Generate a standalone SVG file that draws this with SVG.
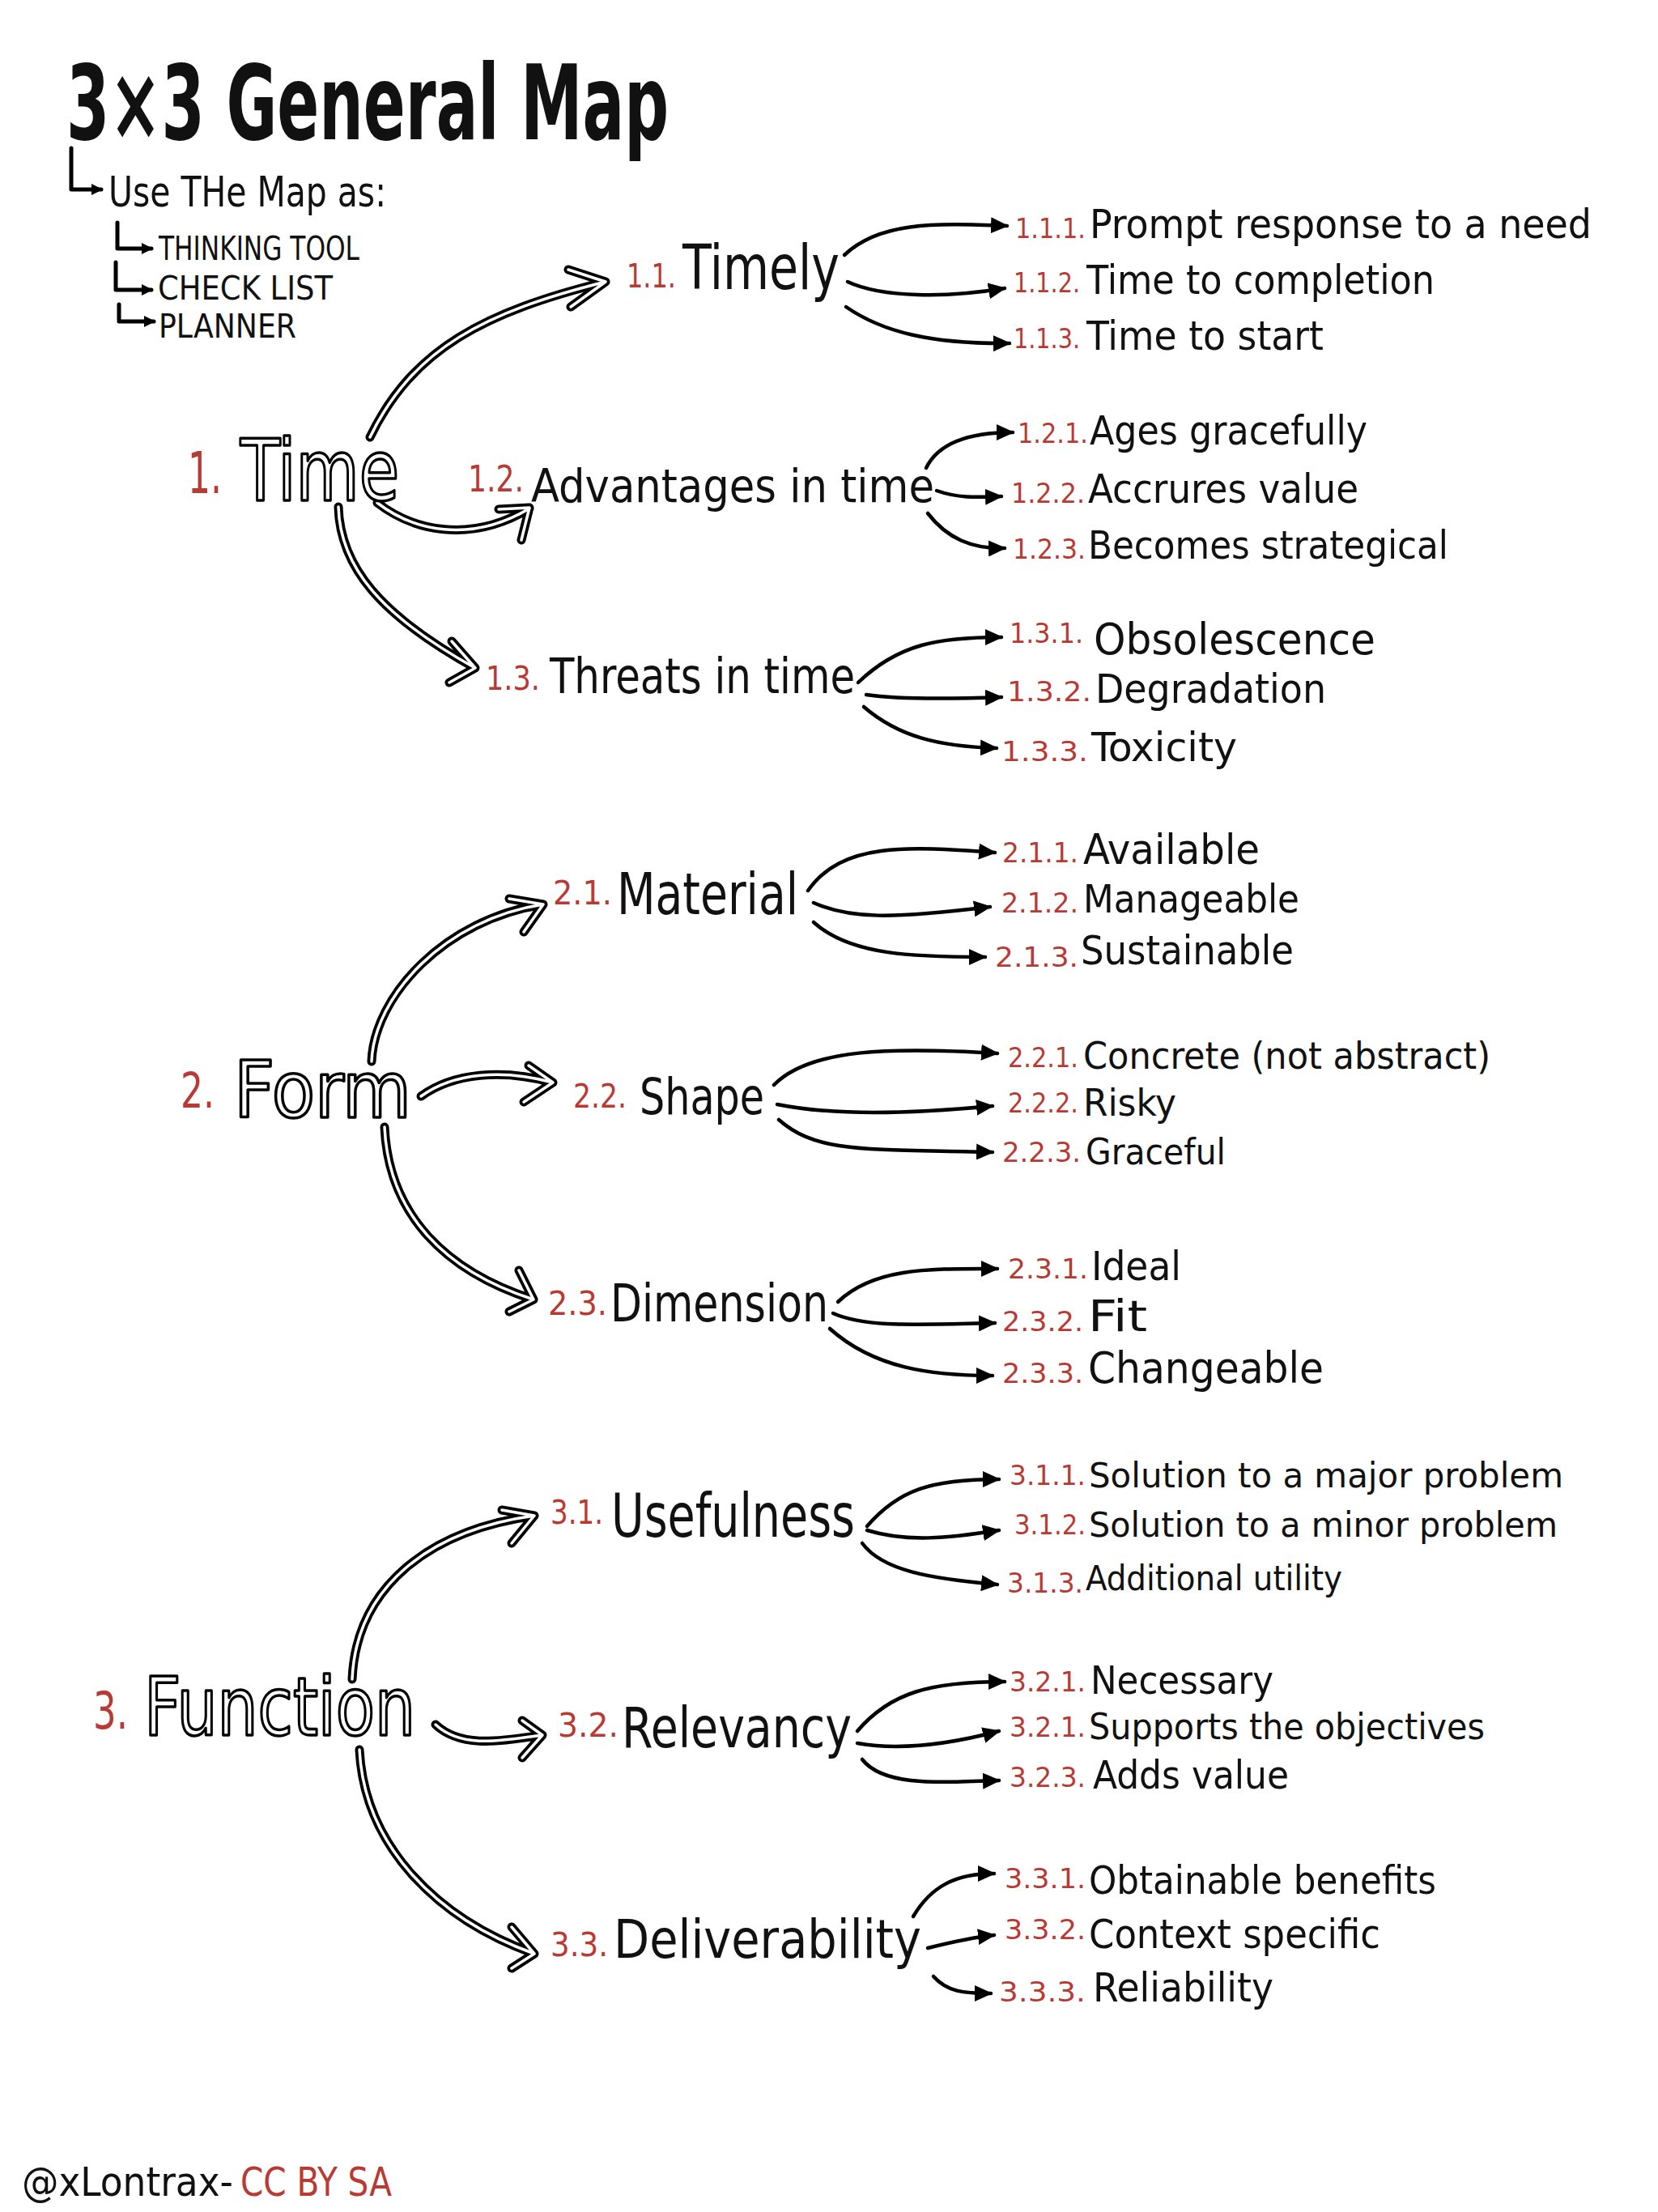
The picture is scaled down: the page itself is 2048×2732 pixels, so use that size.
<svg xmlns="http://www.w3.org/2000/svg" xmlns:xlink="http://www.w3.org/1999/xlink" width="2048" height="2732" viewBox="0 0 2048 2732">
<style>
text{font-family:"DejaVu Sans Condensed","Liberation Sans Narrow","Liberation Sans",sans-serif;fill:#111}
.num{fill:#b83a35}
.outl{fill:#fff;stroke:#000;stroke-width:3.5;stroke-linejoin:round}
.bold{font-weight:bold}
.n3{font-size:34px}
.n2{font-size:40px}
.c3{fill:none;stroke:#000;stroke-width:4.5;stroke-linecap:round;marker-end:url(#ah)}
.mo{fill:none;stroke:#000;stroke-width:11;stroke-linecap:round;stroke-linejoin:round}
.mi{fill:none;stroke:#fff;stroke-width:3.5;stroke-linecap:round;stroke-linejoin:round}
.lm{fill:none;stroke:#000;stroke-width:5;stroke-linecap:round;stroke-linejoin:round;marker-end:url(#sh)}
</style>
<defs>
<marker id="ah" markerUnits="userSpaceOnUse" markerWidth="22" markerHeight="20" refX="20" refY="10" orient="auto">
<path d="M0,0 L22,10 L0,20 Z" fill="#000"/>
</marker>
<marker id="sh" markerUnits="userSpaceOnUse" markerWidth="14" markerHeight="14" refX="12" refY="7" orient="auto">
<path d="M0,0 L14,7 L0,14 Z" fill="#000"/>
</marker>
<path id="m11" d="M457,540 C510,430 600,385 748,348 M702,333 L748,348 L705,379"/>
<path id="m12" d="M466,621 C510,655 580,672 654,628 M616,629 L654,627 L644,667"/>
<path id="m13" d="M418,626 C420,700 470,760 587,825 M558,792 L587,825 L555,843"/>
<path id="m21" d="M459,1311 C462,1230 550,1135 671,1117 M629,1110 L671,1117 L647,1151"/>
<path id="m22" d="M520,1354 C560,1325 620,1320 683,1337 M653,1316 L683,1337 L647,1361"/>
<path id="m23" d="M475,1392 C480,1500 550,1570 659,1605 M641,1569 L659,1605 L629,1620"/>
<path id="m31" d="M435,2074 C440,1960 530,1890 660,1872 M620,1865 L660,1872 L632,1906"/>
<path id="m32" d="M538,2130 C570,2160 620,2150 670,2143 M645,2125 L670,2143 L645,2171"/>
<path id="m33" d="M444,2161 C450,2280 540,2370 660,2413 M632,2380 L660,2413 L632,2431"/>
</defs>
<rect width="2048" height="2732" fill="#fff"/>

<g id="title">
<text x="82" y="172" font-size="128" class="bold" textLength="744" lengthAdjust="spacingAndGlyphs">3×3 General Map</text>
</g>

<g id="usage">
<path class="lm" d="M88,183 L88,234 L125,234"/>
<text x="134" y="255" font-size="52" textLength="343" lengthAdjust="spacingAndGlyphs">Use THe Map as:</text>
<path class="lm" d="M145,275 L145,307 L187,307"/>
<text x="196" y="321" font-size="40" textLength="248" lengthAdjust="spacingAndGlyphs">THINKING TOOL</text>
<path class="lm" d="M143,324 L143,358 L187,358"/>
<text x="195" y="370" font-size="40" textLength="216" lengthAdjust="spacingAndGlyphs">CHECK LIST</text>
<path class="lm" d="M147,376 L147,397 L190,397"/>
<text x="196" y="417" font-size="40" textLength="170" lengthAdjust="spacingAndGlyphs">PLANNER</text>
</g>

<g id="connectors">
<g id="main-connectors">
<use xlink:href="#m11" class="mo"/><use xlink:href="#m11" class="mi"/>
<use xlink:href="#m12" class="mo"/><use xlink:href="#m12" class="mi"/>
<use xlink:href="#m13" class="mo"/><use xlink:href="#m13" class="mi"/>
<use xlink:href="#m21" class="mo"/><use xlink:href="#m21" class="mi"/>
<use xlink:href="#m22" class="mo"/><use xlink:href="#m22" class="mi"/>
<use xlink:href="#m23" class="mo"/><use xlink:href="#m23" class="mi"/>
<use xlink:href="#m31" class="mo"/><use xlink:href="#m31" class="mi"/>
<use xlink:href="#m32" class="mo"/><use xlink:href="#m32" class="mi"/>
<use xlink:href="#m33" class="mo"/><use xlink:href="#m33" class="mi"/>
</g>
<g id="leaf-connectors">
<path class="c3" d="M1043,315 C1085,275 1150,275 1244,279"/>
<path class="c3" d="M1047,348 C1090,368 1170,368 1241,356"/>
<path class="c3" d="M1045,379 C1090,410 1150,425 1247,424"/>
<path class="c3" d="M1144,578 C1160,545 1200,534 1251,534"/>
<path class="c3" d="M1157,606 C1185,616 1210,614 1237,613"/>
<path class="c3" d="M1146,634 C1170,665 1200,678 1241,677"/>
<path class="c3" d="M1060,843 C1110,795 1160,787 1237,787"/>
<path class="c3" d="M1070,858 C1110,864 1180,863 1237,861"/>
<path class="c3" d="M1067,873 C1110,910 1160,922 1231,924"/>
<path class="c3" d="M998,1100 C1040,1040 1120,1045 1229,1053"/>
<path class="c3" d="M1005,1115 C1050,1135 1100,1135 1223,1120"/>
<path class="c3" d="M1005,1139 C1050,1180 1130,1182 1217,1182"/>
<path class="c3" d="M956,1340 C1000,1295 1100,1293 1232,1301"/>
<path class="c3" d="M960,1364 C1030,1378 1120,1376 1226,1366"/>
<path class="c3" d="M962,1383 C1010,1425 1070,1419 1226,1423"/>
<path class="c3" d="M1035,1608 C1080,1565 1150,1567 1232,1567"/>
<path class="c3" d="M1029,1622 C1070,1640 1130,1636 1229,1634"/>
<path class="c3" d="M1025,1641 C1080,1690 1150,1699 1226,1699"/>
<path class="c3" d="M1071,1885 C1110,1840 1150,1827 1234,1827"/>
<path class="c3" d="M1071,1890 C1120,1905 1170,1900 1234,1890"/>
<path class="c3" d="M1065,1906 C1090,1940 1150,1950 1232,1957"/>
<path class="c3" d="M1059,2138 C1100,2090 1150,2077 1241,2077"/>
<path class="c3" d="M1059,2153 C1110,2162 1170,2155 1234,2138"/>
<path class="c3" d="M1065,2173 C1090,2205 1150,2202 1234,2199"/>
<path class="c3" d="M1128,2367 C1150,2330 1180,2314 1228,2314"/>
<path class="c3" d="M1146,2406 C1170,2400 1200,2393 1228,2390"/>
<path class="c3" d="M1153,2441 C1170,2460 1190,2462 1224,2462"/>
</g>
</g>

<g id="n1">
<text x="232" y="609" font-size="72" class="num" textLength="42" lengthAdjust="spacingAndGlyphs">1.</text>
<text x="297" y="618" font-size="106" class="outl" textLength="196" lengthAdjust="spacingAndGlyphs">Time</text>
</g>
<g id="n2">
<text x="223" y="1368" font-size="60" class="num" textLength="42" lengthAdjust="spacingAndGlyphs">2.</text>
<text x="289" y="1380" font-size="96" class="outl" textLength="219" lengthAdjust="spacingAndGlyphs">Form</text>
</g>
<g id="n3">
<text x="115" y="2135" font-size="64" class="num" textLength="43" lengthAdjust="spacingAndGlyphs">3.</text>
<text x="178" y="2143" font-size="100" class="outl" textLength="335" lengthAdjust="spacingAndGlyphs">Function</text>
</g>

<g id="n1-1"><text x="774" y="355" class="num n2" textLength="61" lengthAdjust="spacingAndGlyphs">1.1.</text><text x="843" y="357" font-size="76" textLength="194" lengthAdjust="spacingAndGlyphs">Timely</text></g>
<g id="n1-2"><text x="578" y="607" class="num" font-size="44" textLength="69" lengthAdjust="spacingAndGlyphs">1.2.</text><text x="656" y="620" font-size="57" textLength="498" lengthAdjust="spacingAndGlyphs">Advantages in time</text></g>
<g id="n1-3"><text x="600" y="852" class="num n2" textLength="67" lengthAdjust="spacingAndGlyphs">1.3.</text><text x="679" y="856" font-size="60" textLength="377" lengthAdjust="spacingAndGlyphs">Threats in time</text></g>
<g id="n2-1"><text x="683" y="1117" class="num n2" textLength="73" lengthAdjust="spacingAndGlyphs">2.1.</text><text x="762" y="1129" font-size="72" textLength="224" lengthAdjust="spacingAndGlyphs">Material</text></g>
<g id="n2-2"><text x="708" y="1368" class="num n2" textLength="66" lengthAdjust="spacingAndGlyphs">2.2.</text><text x="790" y="1376" font-size="62" textLength="154" lengthAdjust="spacingAndGlyphs">Shape</text></g>
<g id="n2-3"><text x="677" y="1624" class="num n2" textLength="73" lengthAdjust="spacingAndGlyphs">2.3.</text><text x="754" y="1632" font-size="64" textLength="269" lengthAdjust="spacingAndGlyphs">Dimension</text></g>
<g id="n3-1"><text x="680" y="1882" class="num n2" textLength="65" lengthAdjust="spacingAndGlyphs">3.1.</text><text x="755" y="1898" font-size="74" textLength="301" lengthAdjust="spacingAndGlyphs">Usefulness</text></g>
<g id="n3-2"><text x="689" y="2145" class="num n2" textLength="75" lengthAdjust="spacingAndGlyphs">3.2.</text><text x="768" y="2158" font-size="70" textLength="284" lengthAdjust="spacingAndGlyphs">Relevancy</text></g>
<g id="n3-3"><text x="680" y="2416" class="num n2" textLength="71" lengthAdjust="spacingAndGlyphs">3.3.</text><text x="758" y="2418" font-size="66" textLength="380" lengthAdjust="spacingAndGlyphs">Deliverability</text></g>

<g id="n1-1-1"><text x="1254" y="294" class="num n3" textLength="87" lengthAdjust="spacingAndGlyphs">1.1.1.</text><text x="1346" y="294" font-size="50" textLength="620" lengthAdjust="spacingAndGlyphs">Prompt response to a need</text></g>
<g id="n1-1-2"><text x="1252" y="361" class="num n3" textLength="82" lengthAdjust="spacingAndGlyphs">1.1.2.</text><text x="1342" y="363" font-size="49" textLength="430" lengthAdjust="spacingAndGlyphs">Time to completion</text></g>
<g id="n1-1-3"><text x="1252" y="430" class="num n3" textLength="82" lengthAdjust="spacingAndGlyphs">1.1.3.</text><text x="1342" y="432" font-size="50" textLength="293" lengthAdjust="spacingAndGlyphs">Time to start</text></g>
<g id="n1-2-1"><text x="1257" y="547" class="num n3" textLength="87" lengthAdjust="spacingAndGlyphs">1.2.1.</text><text x="1346" y="549" font-size="49" textLength="343" lengthAdjust="spacingAndGlyphs">Ages gracefully</text></g>
<g id="n1-2-2"><text x="1249" y="621" class="num n3" textLength="91" lengthAdjust="spacingAndGlyphs">1.2.2.</text><text x="1344" y="621" font-size="49" textLength="334" lengthAdjust="spacingAndGlyphs">Accrures value</text></g>
<g id="n1-2-3"><text x="1251" y="690" class="num n3" textLength="90" lengthAdjust="spacingAndGlyphs">1.2.3.</text><text x="1344" y="690" font-size="48" textLength="445" lengthAdjust="spacingAndGlyphs">Becomes strategical</text></g>
<g id="n1-3-1"><text x="1247" y="794" class="num n3" textLength="91" lengthAdjust="spacingAndGlyphs">1.3.1.</text><text x="1351" y="808" font-size="54" textLength="348" lengthAdjust="spacingAndGlyphs">Obsolescence</text></g>
<g id="n1-3-2"><text x="1244" y="866" class="num n3" textLength="104" lengthAdjust="spacingAndGlyphs">1.3.2.</text><text x="1353" y="868" font-size="50" textLength="285" lengthAdjust="spacingAndGlyphs">Degradation</text></g>
<g id="n1-3-3"><text x="1237" y="940" class="num n3" textLength="107" lengthAdjust="spacingAndGlyphs">1.3.3.</text><text x="1348" y="940" font-size="50" textLength="180" lengthAdjust="spacingAndGlyphs">Toxicity</text></g>

<g id="n2-1-1"><text x="1238" y="1065" class="num n3" textLength="94" lengthAdjust="spacingAndGlyphs">2.1.1.</text><text x="1338" y="1067" font-size="52" textLength="218" lengthAdjust="spacingAndGlyphs">Available</text></g>
<g id="n2-1-2"><text x="1237" y="1127" class="num n3" textLength="95" lengthAdjust="spacingAndGlyphs">2.1.2.</text><text x="1338" y="1127" font-size="48" textLength="267" lengthAdjust="spacingAndGlyphs">Manageable</text></g>
<g id="n2-1-3"><text x="1229" y="1194" class="num n3" textLength="103" lengthAdjust="spacingAndGlyphs">2.1.3.</text><text x="1335" y="1191" font-size="49" textLength="263" lengthAdjust="spacingAndGlyphs">Sustainable</text></g>
<g id="n2-2-1"><text x="1245" y="1318" class="num n3" textLength="87" lengthAdjust="spacingAndGlyphs">2.2.1.</text><text x="1338" y="1320" font-size="47" textLength="503" lengthAdjust="spacingAndGlyphs">Concrete (not abstract)</text></g>
<g id="n2-2-2"><text x="1245" y="1374" class="num n3" textLength="87" lengthAdjust="spacingAndGlyphs">2.2.2.</text><text x="1338" y="1378" font-size="47" textLength="115" lengthAdjust="spacingAndGlyphs">Risky</text></g>
<g id="n2-2-3"><text x="1238" y="1435" class="num n3" textLength="97" lengthAdjust="spacingAndGlyphs">2.2.3.</text><text x="1341" y="1438" font-size="45" textLength="173" lengthAdjust="spacingAndGlyphs">Graceful</text></g>
<g id="n2-3-1"><text x="1245" y="1579" class="num n3" textLength="99" lengthAdjust="spacingAndGlyphs">2.3.1.</text><text x="1348" y="1581" font-size="50" textLength="111" lengthAdjust="spacingAndGlyphs">Ideal</text></g>
<g id="n2-3-2"><text x="1238" y="1644" class="num n3" textLength="100" lengthAdjust="spacingAndGlyphs">2.3.2.</text><text x="1344" y="1644" font-size="54" textLength="73" lengthAdjust="spacingAndGlyphs">Fit</text></g>
<g id="n2-3-3"><text x="1238" y="1708" class="num n3" textLength="100" lengthAdjust="spacingAndGlyphs">2.3.3.</text><text x="1344" y="1708" font-size="53" textLength="291" lengthAdjust="spacingAndGlyphs">Changeable</text></g>

<g id="n3-1-1"><text x="1247" y="1834" class="num n3" textLength="94" lengthAdjust="spacingAndGlyphs">3.1.1.</text><text x="1345" y="1837" font-size="43" textLength="586" lengthAdjust="spacingAndGlyphs">Solution to a major problem</text></g>
<g id="n3-1-2"><text x="1253" y="1895" class="num n3" textLength="88" lengthAdjust="spacingAndGlyphs">3.1.2.</text><text x="1345" y="1898" font-size="43" textLength="579" lengthAdjust="spacingAndGlyphs">Solution to a minor problem</text></g>
<g id="n3-1-3"><text x="1244" y="1967" class="num n3" textLength="94" lengthAdjust="spacingAndGlyphs">3.1.3.</text><text x="1341" y="1964" font-size="43" textLength="317" lengthAdjust="spacingAndGlyphs">Additional utility</text></g>
<g id="n3-2-1"><text x="1247" y="2089" class="num n3" textLength="94" lengthAdjust="spacingAndGlyphs">3.2.1.</text><text x="1347" y="2092" font-size="48" textLength="226" lengthAdjust="spacingAndGlyphs">Necessary</text></g>
<g id="n3-2-2"><text x="1247" y="2145" class="num n3" textLength="94" lengthAdjust="spacingAndGlyphs">3.2.1.</text><text x="1345" y="2148" font-size="45" textLength="489" lengthAdjust="spacingAndGlyphs">Supports the objectives</text></g>
<g id="n3-2-3"><text x="1247" y="2207" class="num n3" textLength="94" lengthAdjust="spacingAndGlyphs">3.2.3.</text><text x="1350" y="2209" font-size="48" textLength="242" lengthAdjust="spacingAndGlyphs">Adds value</text></g>
<g id="n3-3-1"><text x="1241" y="2332" class="num n3" textLength="100" lengthAdjust="spacingAndGlyphs">3.3.1.</text><text x="1345" y="2339" font-size="48" textLength="429" lengthAdjust="spacingAndGlyphs">Obtainable benefits</text></g>
<g id="n3-3-2"><text x="1241" y="2395" class="num n3" textLength="100" lengthAdjust="spacingAndGlyphs">3.3.2.</text><text x="1345" y="2406" font-size="49" textLength="360" lengthAdjust="spacingAndGlyphs">Context specific</text></g>
<g id="n3-3-3"><text x="1234" y="2472" class="num n3" textLength="107" lengthAdjust="spacingAndGlyphs">3.3.3.</text><text x="1350" y="2472" font-size="50" textLength="223" lengthAdjust="spacingAndGlyphs">Reliability</text></g>

<g id="footer">
<text x="27" y="2712" font-size="50" textLength="261" lengthAdjust="spacingAndGlyphs">@xLontrax-</text>
<text x="297" y="2712" font-size="50" class="num" textLength="187" lengthAdjust="spacingAndGlyphs">CC BY SA</text>
</g>
</svg>
